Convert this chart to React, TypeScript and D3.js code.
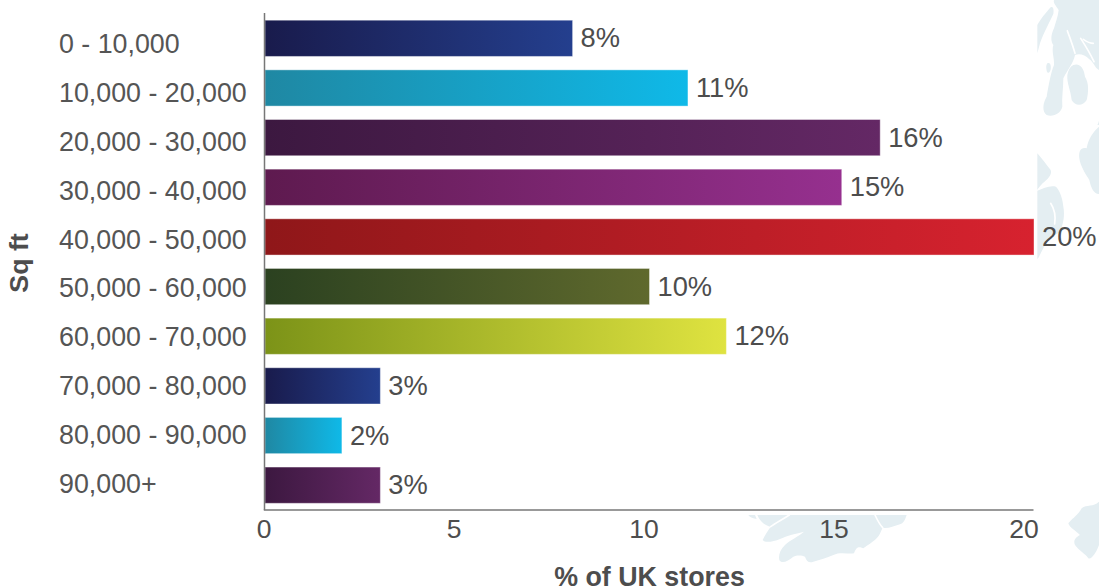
import React, { useEffect, useRef } from "react";
import * as d3 from "d3";

const categories = ["0 - 10,000","10,000 - 20,000","20,000 - 30,000","30,000 - 40,000","40,000 - 50,000","50,000 - 60,000","60,000 - 70,000","70,000 - 80,000","80,000 - 90,000","90,000+"];
const shares = [8,11,16,15,20,10,12,3,2,3];
const gradientStops: [string,string][] = [
  ["#191b4c","#243f8e"],["#1f88a3","#0fb9e8"],["#3c1840","#642865"],["#5e1a4f","#96308f"],["#8f1719","#d7222f"],
  ["#2b4120","#5f692d"],["#7c9318","#dfe340"],["#191b4c","#243f8e"],["#1f88a3","#0fb9e8"],["#3c1840","#642865"],
];
const xTicks = [0,5,10,15,20];

// Pale coastline decoration, drawn at triple size and scaled down from each origin
const LAND = "#e4eef2";
const coastGroups: { origin: [number, number]; land: string[]; creases: string[] }[] = [
  {
    origin: [1030, 0],
    land: [
      "M22 75 C30 60 50 35 62 22 C70 18 72 30 70 42 C62 60 40 100 30 130 L22 160 Z",
      "M52 190 C60 185 64 195 62 208 C60 220 52 222 50 212 C48 202 48 195 52 190 Z",
      "M72 0 C68 8 80 20 86 30 C84 50 76 70 72 85 C62 105 62 125 70 135 C64 155 74 175 72 195 C62 220 55 260 50 290 C38 310 36 335 50 345 C70 352 92 340 97 320 C95 295 100 265 100 235 C115 205 130 190 135 165 C150 160 165 165 178 178 C190 185 195 205 207 210 L207 0 Z",
      "M130 195 C150 188 162 205 165 230 C178 250 175 280 170 300 C160 318 135 320 125 300 C122 270 110 250 112 225 C115 210 120 200 130 195 Z",
      "M207 362 C205 368 204 372 202 375 L207 375 Z",
    ],
    creases: ["M112 92 C120 115 128 135 135 160", "M152 115 C165 135 178 155 192 185", "M190 130 C180 130 170 125 160 118"],
  },
  {
    origin: [1030, 120],
    land: [
      "M22 100 C35 115 50 135 62 150 C68 165 50 180 38 190 C30 198 25 205 22 210 Z",
      "M22 212 C40 205 60 195 78 200 C92 215 98 240 100 260 C105 285 100 320 85 340 C70 345 50 365 40 385 C32 400 25 415 22 418 Z",
      "M207 20 C190 35 175 55 170 85 C155 80 145 90 148 115 C150 135 165 160 178 180 C182 200 190 222 207 222 Z",
    ],
    creases: ["M62 250 C72 265 78 285 74 312"],
  },
  {
    origin: [740, 505],
    land: [
      "M25 30 L45 30 L50 42 C40 40 30 38 25 30 Z",
      "M52 30 L500 30 C495 45 490 55 480 58 C460 65 440 72 428 68 C424 75 420 90 410 100 C395 115 385 118 370 130 C358 125 350 122 342 145 C325 148 300 140 280 150 C260 158 240 165 220 170 C208 175 200 170 195 155 C185 150 170 150 160 155 C145 168 125 178 118 165 C115 150 120 135 135 120 C150 105 175 95 192 80 C170 85 140 92 120 102 C100 110 75 115 68 105 C75 90 85 75 92 65 C80 62 62 55 52 30 Z",
    ],
    creases: ["M148 30 C125 45 105 55 92 65", "M405 30 C412 45 420 60 428 68"],
  },
  {
    origin: [740, 430],
    land: [
      "M985 280 C1000 262 1015 255 1025 235 C1040 222 1060 232 1077 215 L1077 345 C1070 365 1055 390 1045 385 C1035 370 1020 365 1005 345 C998 330 1010 320 1020 315 C1005 300 990 295 985 280 Z",
    ],
    creases: [],
  },
];

export default function App() {
  const ref = useRef<SVGSVGElement>(null);
  useEffect(() => {
    const svg = d3.select(ref.current!);
    svg.selectAll("*").remove();
    const font = "'Liberation Sans', Arial, sans-serif";
    const ink = "#4d4d4d";
    const soft = "#555555";
    const x = d3.scaleLinear().domain([0, 20]).range([265, 1034]);
    const y = d3.scaleBand<string>().domain(categories).range([13.5, 510]).paddingInner(0.27).paddingOuter(0.135);
    // Category captions sit on a slightly tighter rhythm than the bars
    const captionY = d3.scalePoint<string>().domain(categories).range([43.5, 483.5]);
    const tickX = d3.scaleLinear().domain([0, 20]).range([264, 1024]);

    const defs = svg.append("defs");
    gradientStops.forEach(([from, to], i) => {
      const g = defs.append("linearGradient").attr("id", `bar-${i}`);
      g.append("stop").attr("offset", "0%").attr("stop-color", from);
      g.append("stop").attr("offset", "100%").attr("stop-color", to);
    });

    const coast = svg.append("g").selectAll("g").data(coastGroups).join("g")
      .attr("transform", d => `translate(${d.origin[0]},${d.origin[1]}) scale(${1 / 3})`);
    coast.selectAll("path.land").data(d => d.land).join("path").attr("class", "land")
      .attr("d", d => d).attr("fill", LAND);
    coast.selectAll("path.crease").data(d => d.creases).join("path").attr("class", "crease")
      .attr("d", d => d).attr("fill", "none").attr("stroke", "#ffffff").attr("stroke-width", 5).attr("stroke-linecap", "round");

    // Bars with a thin pale rim
    svg.append("g").selectAll("rect").data(shares).join("rect")
      .attr("x", x(0)).attr("y", (_, i) => y(categories[i])!)
      .attr("width", d => x(d) - x(0)).attr("height", y.bandwidth())
      .attr("fill", (_, i) => `url(#bar-${i})`)
      .attr("stroke", "#ffffff").attr("stroke-opacity", 0.4).attr("stroke-width", 1);

    // Value labels
    svg.append("g").selectAll("text").data(shares).join("text")
      .attr("x", d => x(d) + 8).attr("y", (_, i) => y(categories[i])! + y.bandwidth() / 2 + 9)
      .attr("font-family", font).attr("font-size", 27.3).attr("fill", ink)
      .text(d => `${d}%`);

    // Category labels
    svg.append("g").selectAll("text").data(categories).join("text")
      .attr("x", 59).attr("y", c => captionY(c)! + 9.5)
      .attr("font-family", font).attr("font-size", 26.8).attr("fill", soft)
      .text(c => c);

    // Axes
    svg.append("line").attr("x1", 264.5).attr("x2", 264.5).attr("y1", 13).attr("y2", 510)
      .attr("stroke", "#777").attr("stroke-width", 1.5);
    svg.append("line").attr("x1", 263.8).attr("x2", 1033.5).attr("y1", 510).attr("y2", 510)
      .attr("stroke", "#777").attr("stroke-width", 1.5);
    svg.append("g").selectAll("text").data(xTicks).join("text")
      .attr("x", d => tickX(d)).attr("y", 538).attr("text-anchor", "middle")
      .attr("font-family", font).attr("font-size", 26.5).attr("fill", ink)
      .text(d => d);

    svg.append("text").attr("x", 649.5).attr("y", 585.5).attr("text-anchor", "middle")
      .attr("font-family", font).attr("font-size", 26.8).attr("font-weight", 700).attr("fill", ink)
      .text("% of UK stores");
    svg.append("text").attr("transform", "translate(28,263) rotate(-90)").attr("text-anchor", "middle")
      .attr("font-family", font).attr("font-size", 26.7).attr("font-weight", 700).attr("fill", ink)
      .text("Sq ft");
  }, []);
  return (
    <svg ref={ref} width={1099} height={588}
      style={{ position: "absolute", left: 0, top: 0, display: "block" }} />
  );
}
